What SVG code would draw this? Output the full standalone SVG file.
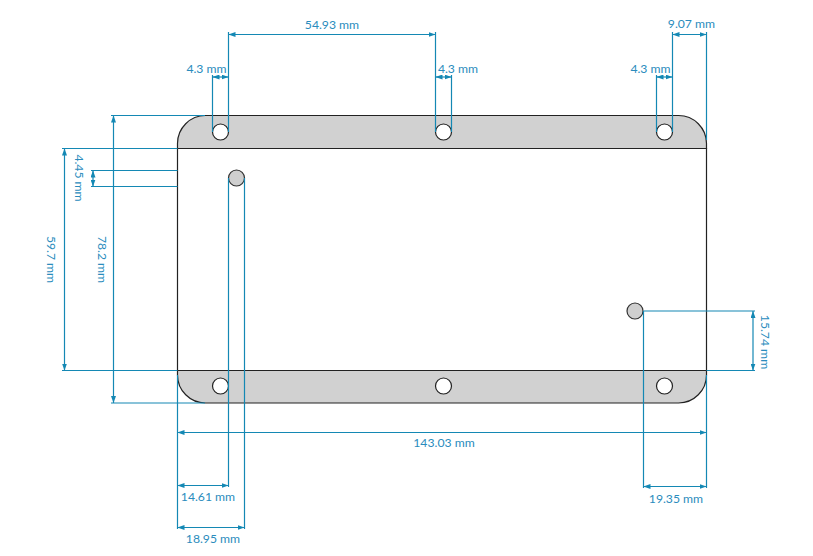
<svg xmlns="http://www.w3.org/2000/svg" width="813" height="556" viewBox="0 0 813 556">
<style>
.d{fill:none;stroke:#1488b4;stroke-width:1.2}
.a{fill:none;stroke:#1488b4;stroke-width:1.2;marker-start:url(#ah);marker-end:url(#ah)}
.b{fill:#d1d1d1;stroke:#222;stroke-width:1.2}
.h{fill:#fff;stroke:#222;stroke-width:1.2}
.g{fill:#cfcfcf;stroke:#333;stroke-width:1.2}
text{font-family:"Lato","Open Sans","Liberation Sans",sans-serif;font-size:12.2px;fill:#2a8cbd;text-anchor:middle}
</style>
<defs>
<marker id="ah" viewBox="0 0 7 5" refX="7" refY="2.5" markerWidth="7" markerHeight="5" markerUnits="userSpaceOnUse" orient="auto-start-reverse"><path d="M0 0L7 2.5L0 5Z" fill="#1488b4"/></marker>
</defs>
<rect width="813" height="556" fill="#fff"/>
<g id="board">
<path class="b" d="M177.5 148.5V143.5A28 28 0 0 1 205.5 115.5H678.5A28 28 0 0 1 706.5 143.5V148.5Z"/>
<path class="b" d="M177.5 370.5V375A28 28 0 0 0 205.5 403H678.5A28 28 0 0 0 706.5 375V370.5Z"/>
<path fill="#fff" stroke="#222" stroke-width="1.2" d="M177.5 148.5H706.5V370.5H177.5Z"/>
</g>
<g id="holes">
<circle id="hole-top-left" class="h" cx="220.5" cy="132" r="8"/>
<circle id="hole-top-mid" class="h" cx="443.5" cy="132" r="8"/>
<circle id="hole-top-right" class="h" cx="664.5" cy="132" r="8"/>
<circle id="hole-bottom-left" class="h" cx="220.5" cy="386" r="8"/>
<circle id="hole-bottom-mid" class="h" cx="443.5" cy="386" r="8"/>
<circle id="hole-bottom-right" class="h" cx="664.5" cy="386" r="8"/>
<circle id="post-left" class="g" cx="236.5" cy="178" r="8"/>
<circle id="post-right" class="g" cx="635" cy="311" r="8"/>
</g>
<g id="connectors">
<path class="d" d="M228.5 32V132M435.5 32V132M212.5 75V132M451.5 75V132M656.5 75V132M672.5 32V132M706.5 32V140"/>
<path class="d" d="M111 115.5H205M111 403H205M62 148.5H177.5M62 370.5H177.5M91 170.5H177.5M91 186.5H177.5"/>
<path class="d" d="M228.5 178V487M244.5 178V529M177.5 375V529M643.5 311V488M706.5 375V488M643.5 311H755M706.5 370.5H755"/>
<line class="a" x1="228.5" y1="34.5" x2="435.5" y2="34.5"/>
<line class="a" x1="212.5" y1="77" x2="228.5" y2="77"/>
<line class="a" x1="435.5" y1="77" x2="451.5" y2="77"/>
<line class="a" x1="656.5" y1="77" x2="672.5" y2="77"/>
<line class="a" x1="672.5" y1="34.5" x2="706.5" y2="34.5"/>
<line class="a" x1="113.5" y1="115.5" x2="113.5" y2="403"/>
<line class="a" x1="64.5" y1="148.5" x2="64.5" y2="370.5"/>
<line class="a" x1="93" y1="170.5" x2="93" y2="186.5"/>
<line class="a" x1="177.5" y1="432.5" x2="706.5" y2="432.5"/>
<line class="a" x1="177.5" y1="485.5" x2="228.5" y2="485.5"/>
<line class="a" x1="177.5" y1="527.5" x2="244.5" y2="527.5"/>
<line class="a" x1="643.5" y1="486.5" x2="706.5" y2="486.5"/>
<line class="a" x1="753" y1="311" x2="753" y2="370.5"/>
</g>
<g id="labels">
<text x="332" y="29">54.93 mm</text>
<text x="206.5" y="73">4.3 mm</text>
<text x="458" y="73">4.3 mm</text>
<text x="650.5" y="73">4.3 mm</text>
<text x="691.5" y="28">9.07 mm</text>
<text x="444" y="447">143.03 mm</text>
<text x="208" y="501">14.61 mm</text>
<text x="213" y="543">18.95 mm</text>
<text x="676" y="503">19.35 mm</text>
<text transform="translate(75,178) rotate(90)">4.45 mm</text>
<text transform="translate(47,259.5) rotate(90)">59.7 mm</text>
<text transform="translate(98,259.5) rotate(90)">78.2 mm</text>
<text transform="translate(761,342) rotate(90)">15.74 mm</text>
</g>
</svg>
